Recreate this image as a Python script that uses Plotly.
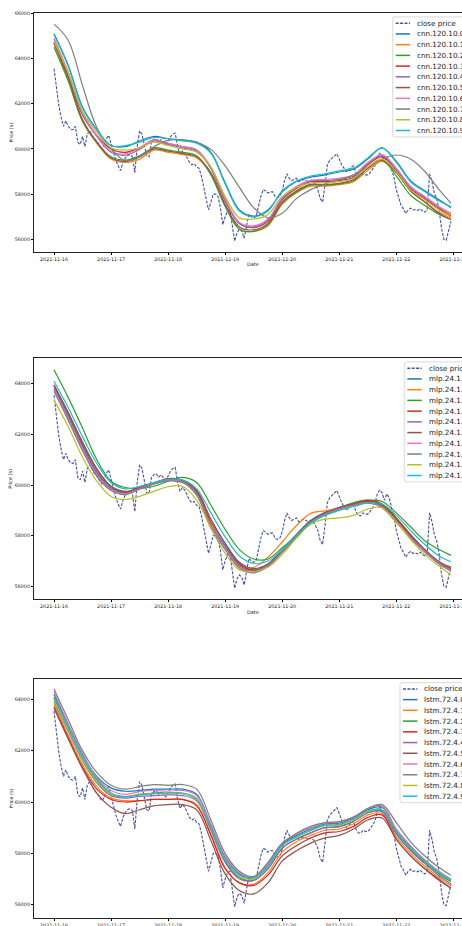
import plotly.graph_objects as go
import pandas as pd

# ---------------- data ----------------
START = "2021-11-16 00:00"

close_price = [
    63550, 62700, 61950, 61400, 61000, 61250, 61000, 60880, 60850, 61000,
    60300, 60200, 60550, 60100, 60650, 60800, 60600, 60450, 60350, 60200,
    60050, 60150, 60450, 60600, 60200, 59800, 59500, 59250, 59050, 59400,
    59600, 59700, 59750, 59650, 58950, 60100, 60800, 60650, 60100, 59700,
    59650, 60300, 60400, 60450, 60300, 60400, 60300, 60200, 60350, 60550,
    60650, 60700, 60100, 59750, 59900, 59800, 59600, 59400, 59300, 59350,
    59200, 59150, 58800, 58300, 57800, 57300, 57650, 58000, 58000, 57900,
    57400, 56650, 57000, 57250, 57300, 56600, 55920, 56300, 56450, 56350,
    56050, 56600, 57100, 57000, 56950, 57000, 57500, 57900, 58200, 58150,
    58050, 58100, 58100, 57900, 57850, 57900, 58150, 58600, 58900, 58700,
    58600, 58650, 58700, 58550, 58600, 58650, 58600, 58550, 58600, 58550,
    58400, 58200, 57800, 57650, 58400, 59300, 59500, 59600, 59700, 59780,
    59550, 59300, 59150, 59000, 59100, 59200, 59250, 58950, 58800, 58780,
    58900, 58850, 58850, 58950, 59100, 59250, 59650, 59800, 59700, 59400,
    59650, 59500, 59100, 58750, 58200, 57850, 57500, 57350, 57150, 57300,
    57380, 57300, 57320, 57280, 57350, 57250, 57200, 57300, 58900, 58550,
    58050, 57800, 57300, 56500, 56000, 55960, 56350, 56800,
]

# prediction curves are sampled every 6 hours (hours since start)
knot_hours = [0, 6, 12, 18, 24, 30, 36, 42, 48, 54, 60, 66, 72, 78, 84, 90,
              96, 102, 108, 114, 120, 126, 132, 138, 144, 150, 156, 162, 167]

cnn_labels = ["cnn.120.10.%d" % i for i in range(10)]
cnn_values = [
    [65100, 63700, 61850, 60850, 60150, 60100, 60350, 60550, 60450, 60400, 60300, 59850, 58500, 57300, 57030, 57300, 58100, 58560, 58750, 58850, 58980, 59100, 59550, 60050, 59450, 58600, 58150, 57750, 57400],
    [64650, 63050, 61200, 60250, 59550, 59400, 59550, 59950, 59850, 59750, 59600, 58900, 57500, 56450, 56350, 56600, 57550, 58050, 58350, 58350, 58420, 58550, 59050, 59450, 58950, 58150, 57650, 57200, 56950],
    [64500, 63000, 61250, 60300, 59650, 59500, 59700, 60050, 59950, 59850, 59700, 58850, 57450, 56450, 56350, 56650, 57600, 58100, 58400, 58400, 58450, 58600, 59150, 59500, 58800, 57950, 57500, 57100, 56880],
    [64700, 63250, 61500, 60600, 60000, 59850, 60050, 60400, 60250, 60100, 59950, 59150, 57700, 56700, 56520, 56800, 57750, 58250, 58550, 58550, 58600, 58750, 59300, 59650, 59050, 58250, 57800, 57350, 57050],
    [64850, 63350, 61550, 60550, 59850, 59720, 59980, 60350, 60200, 60050, 59900, 59150, 57750, 56700, 56550, 56850, 57800, 58300, 58580, 58600, 58650, 58800, 59350, 59700, 59100, 58300, 57850, 57400, 57150],
    [64700, 63150, 61300, 60300, 59600, 59450, 59650, 60000, 59900, 59800, 59650, 58950, 57550, 56550, 56420, 56700, 57650, 58150, 58430, 58420, 58480, 58650, 59150, 59500, 58950, 58150, 57650, 57150, 56870],
    [64900, 63400, 61600, 60600, 59900, 59780, 60050, 60400, 60250, 60100, 59950, 59200, 57800, 56750, 56600, 56900, 57850, 58350, 58620, 58650, 58700, 58850, 59400, 59750, 59150, 58350, 57900, 57450, 57150],
    [65520, 64800, 62800, 60950, 60000, 59480, 59650, 60100, 60380, 60400, 60280, 59980, 59250, 58300, 57400, 56950, 57150, 57800, 58200, 58450, 58650, 58850, 59200, 59550, 59730, 59550, 59000, 58200, 57600],
    [64750, 63350, 61650, 60750, 60050, 59950, 60050, 60300, 60150, 60000, 59850, 59200, 57900, 56950, 56900, 57100, 57900, 58300, 58500, 58500, 58550, 58700, 59200, 59550, 59000, 58200, 57750, 57300, 57000],
    [65050, 63650, 61800, 60850, 60150, 60150, 60300, 60500, 60450, 60350, 60250, 59800, 58450, 57250, 57000, 57250, 58150, 58580, 58800, 58900, 59030, 59150, 59600, 60050, 59400, 58550, 58100, 57700, 57450],
]

mlp_labels = ["mlp.24.1.%d" % i for i in range(10)]
mlp_values = [
    [63900, 62750, 61550, 60500, 59880, 59700, 59880, 60070, 60200, 60150, 59700, 58450, 57600, 56850, 56650, 56880, 57450, 58050, 58600, 58920, 59120, 59250, 59350, 59180, 58600, 57980, 57420, 56950, 56700],
    [63800, 62650, 61450, 60400, 59800, 59650, 59850, 60080, 60200, 60150, 59650, 58450, 57500, 56800, 56750, 57150, 57750, 58400, 58880, 58980, 59100, 59300, 59400, 59250, 58650, 57950, 57400, 56950, 56780],
    [64550, 63450, 62250, 61000, 60150, 59900, 59860, 59950, 60150, 60300, 60100, 59200, 58250, 57450, 57080, 57080, 57520, 58000, 58500, 58850, 59100, 59300, 59400, 59350, 58900, 58350, 57800, 57450, 57220],
    [63950, 62850, 61650, 60600, 59950, 59750, 59900, 60080, 60250, 60200, 59800, 58650, 57700, 56900, 56620, 56800, 57350, 57950, 58500, 58850, 59100, 59250, 59380, 59250, 58700, 58050, 57450, 56950, 56650],
    [63800, 62650, 61450, 60450, 59850, 59680, 59870, 60050, 60180, 60120, 59650, 58400, 57550, 56800, 56600, 56850, 57400, 58000, 58550, 58880, 59080, 59220, 59320, 59150, 58580, 57950, 57400, 56930, 56650],
    [63950, 62850, 61700, 60650, 59950, 59720, 59880, 60080, 60220, 60170, 59750, 58550, 57700, 56950, 56700, 56880, 57420, 58020, 58580, 58900, 59100, 59230, 59350, 59200, 58650, 58000, 57450, 56980, 56720],
    [63750, 62600, 61400, 60400, 59820, 59650, 59850, 60050, 60180, 60120, 59620, 58350, 57500, 56750, 56550, 56800, 57380, 57980, 58520, 58850, 59060, 59200, 59300, 59120, 58550, 57920, 57380, 56900, 56620],
    [63700, 62550, 61350, 60350, 59780, 59620, 59830, 60030, 60160, 60100, 59600, 58300, 57450, 56720, 56530, 56780, 57350, 57950, 58500, 58830, 59040, 59180, 59280, 59100, 58520, 57900, 57350, 56880, 56600],
    [63350, 62300, 61100, 60150, 59550, 59430, 59550, 59750, 59930, 59950, 59400, 58300, 57300, 56650, 56580, 56750, 57250, 57900, 58450, 58650, 58700, 58800, 59050, 59100, 58550, 57850, 57250, 56800, 56450],
    [64100, 63050, 61900, 60850, 60100, 59850, 59950, 60100, 60220, 60200, 59850, 58900, 57950, 57200, 56900, 57000, 57450, 58000, 58500, 58800, 59000, 59150, 59300, 59250, 58800, 58200, 57650, 57200, 56970],
]

lstm_labels = ["lstm.72.4.%d" % i for i in range(10)]
lstm_values = [
    [64200, 63000, 61850, 61000, 60550, 60420, 60450, 60500, 60500, 60500, 60300, 59100, 57850, 57200, 57050, 57550, 58350, 58700, 58950, 59150, 59180, 59380, 59700, 59800, 58900, 58250, 57700, 57250, 56950],
    [63800, 62600, 61450, 60600, 60150, 60050, 60050, 60100, 60100, 60100, 59900, 58750, 57450, 56850, 56800, 57250, 58050, 58450, 58700, 58900, 58950, 59150, 59500, 59550, 58650, 58000, 57500, 57050, 56750],
    [64050, 62850, 61700, 60850, 60300, 60200, 60300, 60350, 60350, 60330, 60100, 58950, 57700, 57050, 56950, 57400, 58200, 58550, 58800, 59000, 59050, 59250, 59580, 59650, 58800, 58150, 57650, 57200, 56900],
    [63700, 62500, 61350, 60500, 60100, 60000, 60050, 60100, 60100, 60100, 59850, 58700, 57400, 56850, 56750, 57150, 57900, 58300, 58600, 58800, 58850, 59050, 59400, 59500, 58550, 57900, 57400, 56950, 56650],
    [63900, 62750, 61600, 60750, 60250, 60150, 60220, 60250, 60280, 60250, 60050, 58900, 57650, 57000, 56950, 57400, 58200, 58550, 58800, 59000, 59030, 59250, 59580, 59620, 58750, 58100, 57600, 57130, 56820],
    [63650, 62450, 61300, 60350, 59800, 59550, 59700, 59850, 59900, 59900, 59700, 58500, 57200, 56550, 56420, 56850, 57700, 58100, 58400, 58600, 58700, 58950, 59300, 59380, 58550, 57900, 57400, 56980, 56640],
    [64300, 63050, 61900, 60950, 60450, 60300, 60400, 60450, 60420, 60450, 60250, 59150, 57900, 57250, 57080, 57600, 58400, 58750, 59000, 59180, 59220, 59420, 59750, 59850, 58950, 58300, 57750, 57300, 57000],
    [64400, 63200, 62000, 61150, 60650, 60500, 60600, 60680, 60650, 60680, 60500, 59300, 58000, 57300, 57100, 57650, 58400, 58780, 59050, 59200, 59240, 59400, 59750, 59900, 59200, 58450, 57900, 57450, 57150],
    [63950, 62800, 61650, 60800, 60300, 60220, 60300, 60330, 60330, 60330, 60100, 59000, 57750, 57100, 57000, 57500, 58300, 58620, 58880, 59080, 59100, 59300, 59630, 59700, 58850, 58200, 57700, 57250, 56950],
    [64100, 62900, 61750, 60900, 60350, 60200, 60280, 60330, 60350, 60350, 60150, 59000, 57750, 57150, 57050, 57500, 58300, 58650, 58900, 59100, 59130, 59330, 59650, 59700, 58850, 58200, 57700, 57250, 56950],
]

y_ranges = [[55453, 66000], [55487, 65003], [55494, 64791]]
y_tick_values = [56000, 58000, 60000, 62000, 64000, 66000]

# ---------------- styles / layout constants ----------------
COLORS = ["#1f77b4", "#ff7f0e", "#2ca02c", "#d62728", "#9467bd",
          "#8c564b", "#e377c2", "#7f7f7f", "#bcbd22", "#17becf"]
CLOSE_COLOR = "#4352a8"
FONT = "DejaVu Sans"
W, H = 462, 926
PLOT_L = 34.0                 # px of left spine
PX_DAY0, PX_PER_DAY = 54.0, 57.05
# vertical extents (px from top) of the three axes boxes
BOXES = [(13.3, 251.7), (358.3, 599.3), (679.0, 917.7)]
LEGEND_LEFT = [392.7, 404.3, 400.0]
LEGEND_FS = 7.2
TICK_FS = 4.8

start = pd.Timestamp(START)
close_times = pd.date_range(start, periods=len(close_price), freq="h")
knot_times = [start + pd.Timedelta(hours=h) for h in knot_hours]


def px_to_time(px):
    return start + pd.Timedelta(days=(px - PX_DAY0) / PX_PER_DAY)


def xp(px):
    return (px - PLOT_L) / (W - PLOT_L)


def yp(py):
    return 1 - py / H


x_range = [px_to_time(PLOT_L), px_to_time(W)]

fig = go.Figure()
panels = [(cnn_labels, cnn_values), (mlp_labels, mlp_values), (lstm_labels, lstm_values)]

shapes = []
annotations = []

for k, (labels, values) in enumerate(panels):
    sfx = "" if k == 0 else str(k + 1)
    xa, ya = "x" + sfx, "y" + sfx
    fig.add_trace(go.Scatter(
        x=close_times, y=close_price, mode="lines", name="close price",
        line=dict(color=CLOSE_COLOR, width=1.1, dash="3px,1.4px"),
        xaxis=xa, yaxis=ya, showlegend=False))
    for i, (lab, vals) in enumerate(zip(labels, values)):
        fig.add_trace(go.Scatter(
            x=knot_times, y=vals, mode="lines", name=lab,
            line=dict(color=COLORS[i], width=1.2, shape="spline", smoothing=1.0),
            xaxis=xa, yaxis=ya, showlegend=False))

    top, bot = BOXES[k]
    fig.layout["xaxis" + sfx] = dict(
        domain=[0, 1], anchor=ya, type="date", range=x_range,
        tickformat="%Y-%m-%d", dtick=86400000, tick0=START,
        ticks="outside", ticklen=2, tickwidth=0.8, tickcolor="#000",
        ticklabeloverflow="allow",
        showline=True, linecolor="#222", linewidth=1.2, mirror=True,
        showgrid=False, zeroline=False, automargin=False,
        tickfont=dict(family=FONT, size=TICK_FS, color="#222"))
    fig.layout["yaxis" + sfx] = dict(
        domain=[yp(bot), yp(top)], anchor=xa, range=y_ranges[k],
        tickvals=y_tick_values, tickformat="d",
        ticks="outside", ticklen=2, tickwidth=0.8, tickcolor="#000",
        showline=True, linecolor="#222", linewidth=1.2, mirror=False,
        showgrid=False, zeroline=False, automargin=False,
        tickfont=dict(family=FONT, size=TICK_FS, color="#222"))

    # axis titles
    annotations.append(dict(
        text="Price ($)", xref="paper", yref="paper", x=xp(11), y=yp((top + bot) / 2),
        xanchor="center", yanchor="middle", textangle=-90, showarrow=False,
        font=dict(family=FONT, size=4.8, color="#222"), borderpad=0))
    if bot + 12.3 < H:
        annotations.append(dict(
            text="Date", xref="paper", yref="paper", x=xp(252.6), y=yp(bot + 12.3),
            xanchor="center", yanchor="middle", showarrow=False,
            font=dict(family=FONT, size=4.9, color="#222"), borderpad=0))

    # legend (upper right, partly outside the visible page like the reference)
    L = LEGEND_LEFT[k]
    T = top + 3.6
    n = len(labels) + 1
    B = T + 6.3 + (n - 1) * 10.73 + 6.4
    R = 467.4
    r = 2.0
    rx, ry = r / (W - PLOT_L), r / H
    x0, x1, y0, y1 = xp(L), xp(R), yp(B), yp(T)
    path = (f"M {x0 + rx},{y1} L {x1 - rx},{y1} Q {x1},{y1} {x1},{y1 - ry} "
            f"L {x1},{y0 + ry} Q {x1},{y0} {x1 - rx},{y0} L {x0 + rx},{y0} "
            f"Q {x0},{y0} {x0},{y0 + ry} L {x0},{y1 - ry} Q {x0},{y1} {x0 + rx},{y1} Z")
    shapes.append(dict(type="path", path=path, xref="paper", yref="paper",
                       line=dict(color="#d0d0d0", width=0.8),
                       fillcolor="rgba(255,255,255,0.8)", layer="above"))
    entries = [("close price", CLOSE_COLOR, "3px,1.4px")] + \
              [(lab, COLORS[i], "solid") for i, lab in enumerate(labels)]
    for j, (txt, col, dash) in enumerate(entries):
        cy = T + 6.3 + j * 10.73
        shapes.append(dict(type="line", xref="paper", yref="paper",
                           x0=xp(L + 3.0), x1=xp(L + 17.4), y0=yp(cy), y1=yp(cy),
                           line=dict(color=col, width=1.5, dash=dash), layer="above"))
        annotations.append(dict(
            text=txt, xref="paper", yref="paper", x=xp(L + 23.2), y=yp(cy),
            xanchor="left", yanchor="middle", showarrow=False, borderpad=0,
            font=dict(family=FONT, size=LEGEND_FS, color="#222")))

fig.update_layout(
    width=W, height=H,
    margin=dict(l=PLOT_L, r=0, t=0, b=0, pad=0),
    paper_bgcolor="white", plot_bgcolor="white",
    showlegend=False,
    shapes=shapes, annotations=annotations,
    font=dict(family=FONT),
)

fig.write_html(
    "out.html",
    config={"displayModeBar": False},
    post_script="document.body.style.margin='0';document.body.style.overflow='hidden';",
)
